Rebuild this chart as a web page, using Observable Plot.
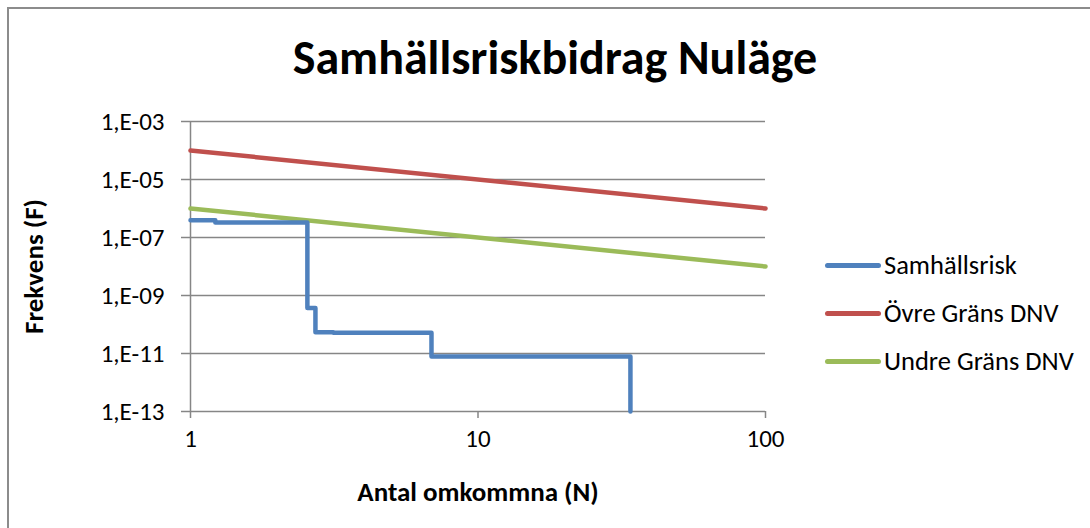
<!DOCTYPE html>
<html>
<head>
<meta charset="utf-8">
<script src="https://cdn.jsdelivr.net/npm/d3@7"></script>
<script src="https://cdn.jsdelivr.net/npm/@observablehq/plot@0.6"></script>
<style>
  html, body { margin: 0; padding: 0; background: #fff; }
  #wrap { position: relative; width: 1090px; height: 528px; overflow: hidden; font-family: Carlito, Calibri, Lato, "Open Sans", sans-serif; }
  #frame { position: absolute; left: 7px; top: 7px; width: 1200px; height: 600px; border-left: 2px solid #8c8c8c; border-top: 2px solid #8c8c8c; box-sizing: border-box; }
  #chart { position: absolute; left: 0; top: 0; }
  .leg { position: absolute; left: 825px; display: flex; align-items: center; font-size: 26.5px; color: #000; white-space: nowrap; }
  .leg span.sw { display: inline-block; width: 56px; height: 5px; border-radius: 2.5px; margin-right: 3px; }
</style>
</head>
<body>
<div id="wrap">
  <div id="frame"></div>
  <div id="chart"></div>
</div>
<script>
// ---- data ----
const seriesNames = ["Samhällsrisk", "Övre Gräns DNV", "Undre Gräns DNV"];
const seriesColors = ["#4f81bd", "#c0504d", "#9bbb59"];

const riskN = [1, 1.22, 2.55, 2.72, 3.14, 6.89, 33.9];
const riskF = [3.9e-7, 3.3e-7, 3.7e-10, 5.4e-11, 5.2e-11, 7.9e-12, 1e-13];

const upperN = [1, 100];
const upperF = [1e-4, 1e-6];

const lowerN = [1, 100];
const lowerF = [1e-6, 1e-8];

const xTicks = [1, 10, 100];
const yTicks = [1e-13, 1e-11, 1e-9, 1e-7, 1e-5, 1e-3];
const yTickLabels = ["1,E-13", "1,E-11", "1,E-09", "1,E-07", "1,E-05", "1,E-03"];

const title = "Samhällsriskbidrag Nuläge";
const xLabel = "Antal omkommna (N)";
const yLabel = "Frekvens (F)";

// ---- build tables ----
const risk = riskN.map((n, i) => ({N: n, F: riskF[i]}));
const upper = upperN.map((n, i) => ({N: n, F: upperF[i]}));
const lower = lowerN.map((n, i) => ({N: n, F: lowerF[i]}));

const font = "Carlito, Calibri, Lato, 'Open Sans', sans-serif";

const chart = Plot.plot({
  width: 1090,
  height: 528,
  marginLeft: 190,
  marginRight: 325,
  marginTop: 121,
  marginBottom: 117,
  style: {fontFamily: font, fontSize: "25px", color: "#000", background: "transparent", overflow: "visible"},
  x: {type: "log", domain: [1, 100]},
  y: {type: "log", domain: [1e-13, 1e-3]},
  marks: [
    Plot.ruleY(yTicks, {stroke: "#868686", strokeWidth: 1.5}),
    Plot.ruleX([1], {stroke: "#868686", strokeWidth: 1.5}),
    Plot.axisY({ticks: yTicks, tickFormat: d => yTickLabels[yTicks.indexOf(d)], tickSize: 9, tickPadding: 17, stroke: "#868686", strokeWidth: 1.5, label: null, fontSize: 25, fill: "#000"}),
    Plot.axisX({ticks: xTicks, tickFormat: d => String(d), tickSize: 7, tickPadding: 11, stroke: "#868686", strokeWidth: 1.5, label: null, fontSize: 25, fill: "#000"}),
    Plot.line(upper, {x: "N", y: "F", stroke: seriesColors[1], strokeWidth: 4.5}),
    Plot.line(lower, {x: "N", y: "F", stroke: seriesColors[2], strokeWidth: 4.5}),
    Plot.line(risk, {x: "N", y: "F", stroke: seriesColors[0], strokeWidth: 4.5, curve: "step-after", strokeLinejoin: "round", strokeLinecap: "round"}),
    Plot.text([title], {frameAnchor: "top", textAnchor: "middle", dx: 77, dy: -63, text: d => d, fontSize: 48, fontWeight: "bold", lineAnchor: "middle", fill: "#000"}),
    Plot.text([xLabel], {frameAnchor: "bottom", textAnchor: "middle", dx: 0, dy: 81, text: d => d, fontSize: 27, fontWeight: "bold", lineAnchor: "middle", fill: "#000"}),
    Plot.text([yLabel], {frameAnchor: "left", textAnchor: "middle", dx: -156, dy: 0, rotate: -90, text: d => d, fontSize: 27, fontWeight: "bold", lineAnchor: "middle", fill: "#000"})
  ]
});
document.getElementById("chart").appendChild(chart);

// legend
const legendY = [265, 313, 361];
const wrap = document.getElementById("wrap");
seriesNames.forEach((name, i) => {
  const d = document.createElement("div");
  d.className = "leg";
  d.style.top = (legendY[i] - 15) + "px";
  d.style.height = "30px";
  const sw = document.createElement("span");
  sw.className = "sw";
  sw.style.background = seriesColors[i];
  d.appendChild(sw);
  const t = document.createElement("span");
  t.textContent = name;
  d.appendChild(t);
  wrap.appendChild(d);
});
</script>
</body>
</html>
